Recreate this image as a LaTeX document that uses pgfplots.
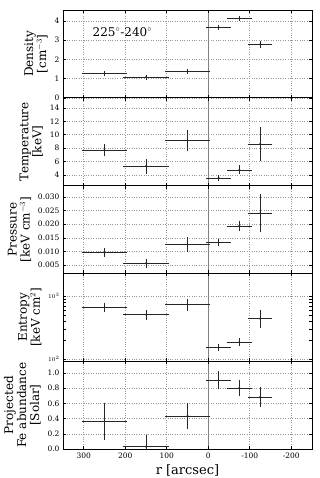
\documentclass[border=0pt]{standalone}
\usepackage{pgfplots}
\pgfplotsset{compat=1.18}
\usepackage{pgfplotstable}
\usepackage{fontspec}
\setmainfont{DejaVu Serif}

\pgfplotstableread{
x ex y ey
250 50 1.25 0.03
150 50 1.07 0.03
50 50 1.38 0.03
-25 25 3.66 0.03
-75 25 4.13 0.03
-125 25 2.78 0.07
}\dens
\pgfplotstableread{
x ex y ey
250 50 7.7 0.6
150 50 5.3 0.8
50 50 9.1 1.3
-25 25 3.56 0.12
-75 25 4.75 0.35
-125 25 8.6 2.25
}\temp
\pgfplotstableread{
x ex y ey
250 50 0.0097 0.0008
150 50 0.0057 0.0009
50 50 0.0126 0.0019
-25 25 0.0132 0.0005
-75 25 0.0194 0.0012
-125 25 0.0240 0.0063
}\pres
\pgfplotstableread{
x ex y ep em
250 50 665 65 60
150 50 507 58 64
50 50 738 107 107
-25 25 152 6 6
-75 25 186 12 11
-125 25 437 120 103
}\entr
\pgfplotstableread{
x ex y ey
250 50 0.36 0.215
150 50 0.03 0.13
50 50 0.435 0.143
-25 25 0.905 0.095
-75 25 0.805 0.08
-125 25 0.685 0.1
}\fe

\pgfplotsset{
  panel/.style={
    scale only axis, width=249pt, height=87.8pt, anchor=south west,
    xmin=-250, xmax=350, x dir=reverse,
    xtick={-200,-100,0,100,200,300},
    xticklabels={},
    grid=major, major grid style={dotted, gray!80, line width=0.5pt},
    axis line style={line width=0.9pt},
    tick align=inside, tick style={black, line width=0.5pt},
    major tick length=3pt,
    ticklabel style={font=\fontsize{7.5}{9}\selectfont},
    /pgf/number format/assume math mode=true,
    label style={font=\fontsize{12}{13}\selectfont, align=center},
    extra x ticks={0}, extra x tick labels={},
    extra x tick style={grid=major, major grid style={solid, gray, line width=1pt}},
  },
  eb/.style={black!85, line width=0.6pt, only marks, mark=*, mark size=0.6pt,
    error bars/.cd, x dir=both, x explicit, y dir=both, y explicit,
    error bar style={black!85, line width=0.6pt},
    error mark options={black!85, line width=0.6pt, mark size=2pt}},
}

\begin{document}
\begin{tikzpicture}
\useasboundingbox (0,0) rectangle (319pt,478pt);
% Density
\begin{axis}[panel, at={(63pt,380.2pt)}, ymin=0, ymax=4.56, ytick={0,1,2,3,4},
  ylabel={Density\\{[cm$^{-3}$]}}]
\addplot[eb] table[x=x, y=y, x error=ex, y error=ey]{\dens};
\node[anchor=south west, font=\fontsize{7.5}{9}\selectfont, inner sep=1pt] at (rel axis cs:0,1) {1e-3};
\node[anchor=west, font=\fontsize{12}{13}\selectfont] at (rel axis cs:0.105,0.75) {225$^\circ$-240$^\circ$};
\end{axis}
% Temperature
\begin{axis}[panel, at={(63pt,292.4pt)}, ymin=2.4, ymax=15.5, ytick={4,6,8,10,12,14},
  ylabel={Temperature\\{[keV]}}]
\addplot[eb] table[x=x, y=y, x error=ex, y error=ey]{\temp};
\end{axis}
% Pressure
\begin{axis}[panel, at={(63pt,204.6pt)}, ymin=0.002, ymax=0.0341,
  ytick={0.005,0.010,0.015,0.020,0.025,0.030},
  yticklabel style={/pgf/number format/.cd, fixed, fixed zerofill, precision=3},
  scaled y ticks=false,
  ylabel={Pressure\\{[keV cm$^{-3}$]}}]
\addplot[eb] table[x=x, y=y, x error=ex, y error=ey]{\pres};
\end{axis}
% Entropy
\begin{axis}[panel, at={(63pt,116.8pt)}, ymode=log, ymin=92, ymax=2300,
  ytick={100,1000}, yticklabel style={font=\fontsize{6}{7}\selectfont},
  ylabel={Entropy\\{[keV cm$^{2}$]}}]
\addplot[eb] table[x=x, y=y, x error=ex, y error plus=ep, y error minus=em]{\entr};
\end{axis}
% Fe
\begin{axis}[panel, at={(63pt,29pt)}, ymin=0, ymax=1.155,
  ytick={0,0.2,0.4,0.6,0.8,1.0},
  yticklabel style={/pgf/number format/.cd, fixed, fixed zerofill, precision=1},
  xticklabels={-200,-100,0,100,200,300},
  xlabel={r [arcsec]}, xlabel style={font=\fontsize{13}{14}\selectfont},
  ylabel={Projected\\Fe abundance\\{[Solar]}}]
\addplot[eb] table[x=x, y=y, x error=ex, y error=ey]{\fe};
\end{axis}
\end{tikzpicture}
\end{document}
